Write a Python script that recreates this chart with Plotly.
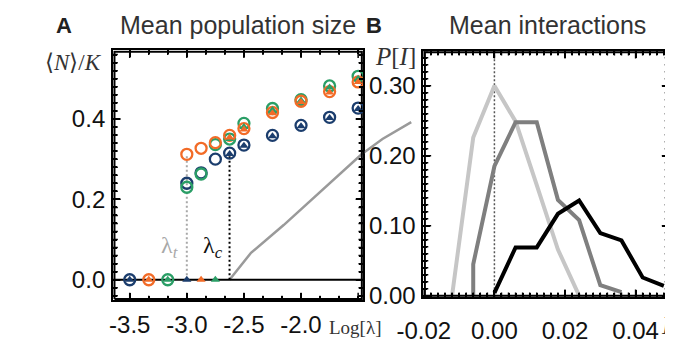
import numpy as np
import plotly.graph_objects as go

# The page body has an 8px margin: positions below are given in window pixels and shifted by it
OFF = 8
W, H = 673, 346

# ---------------- data: panel A ----------------
blue_circ_x = [-3.5, -3.0, -2.875, -2.75, -2.625, -2.5, -2.25, -2.0, -1.75, -1.5]
blue_circ_y = [0.0, 0.240, 0.266, 0.300, 0.315, 0.335, 0.359, 0.384, 0.404, 0.427]
orange_circ_x = [-3.333, -3.0, -2.875, -2.75, -2.625, -2.5, -2.25, -2.0, -1.75, -1.5]
orange_circ_y = [0.0, 0.312, 0.327, 0.341, 0.359, 0.376, 0.416, 0.444, 0.468, 0.492]
green_circ_x = [-3.167, -3.0, -2.875, -2.75, -2.625, -2.5, -2.25, -2.0, -1.75, -1.5]
green_circ_y = [0.0, 0.230, 0.263, 0.336, 0.350, 0.389, 0.426, 0.448, 0.482, 0.506]

blue_tri_x = [-3.5, -3.0, -2.625, -2.5, -2.25, -2.0, -1.75, -1.5]
blue_tri_y = [0.0, 0.0, 0.313, 0.333, 0.357, 0.382, 0.402, 0.425]
orange_tri_x = [-3.333, -2.875, -2.625, -2.5, -2.25, -2.0, -1.75, -1.5]
orange_tri_y = [0.0, 0.0, 0.354, 0.374, 0.414, 0.442, 0.466, 0.492]
green_tri_x = [-3.167, -2.75, -2.625, -2.5, -2.25, -2.0, -1.75, -1.5]
green_tri_y = [0.0, 0.0, 0.350, 0.380, 0.422, 0.446, 0.478, 0.500]

curve_x = [-2.626, -2.5, -2.438, -2.152, -1.875, -1.598, -1.470, -1.287, -1.035]
curve_y = [0.0, 0.045, 0.067, 0.136, 0.208, 0.280, 0.312, 0.350, 0.392]

lambda_t = -3.0
lambda_c = -2.626
lambda_t_top = 0.312
lambda_c_top = 0.315

xA_ticks = [-3.5, -3.0, -2.5, -2.0]
xA_text = ["-3.5", "-3.0", "-2.5", "-2.0"]
yA_ticks = [0.0, 0.2, 0.4]
yA_text = ["0.0", "0.2", "0.4"]

# ---------------- data: panel B ----------------
light_x = [-0.012, -0.006, 0.0, 0.006, 0.012, 0.018, 0.024]
light_y = [0.0, 0.226, 0.300, 0.249, 0.158, 0.066, 0.0]
mid_x = [-0.006, -0.006, 0.0, 0.006, 0.012, 0.018, 0.024, 0.030, 0.036]
mid_y = [0.0, 0.045, 0.185, 0.248, 0.248, 0.137, 0.108, 0.015, 0.005]
black_x = [0.0, 0.006, 0.012, 0.018, 0.024, 0.030, 0.036, 0.042, 0.048]
black_y = [0.004, 0.069, 0.069, 0.117, 0.136, 0.0895, 0.079, 0.026, 0.014]

xB_ticks = [-0.02, 0.0, 0.02, 0.04]
xB_text = ["-0.02", "0.00", "0.02", "0.04"]
yB_ticks = [0.0, 0.1, 0.2, 0.3]
yB_text = ["0.00", "0.10", "0.20", "0.30"]

# ---------------- styling / geometry ----------------
BLUE = "#1b3d6d"
ORANGE = "#f26b27"
GREEN = "#2a9e66"
SANS = "Liberation Sans"
SERIF = "Liberation Serif"


def fx(px):
    return (px - OFF) / W


def fy(py):
    return 1 - (py - OFF) / H


A_left, A_right, A_top, A_bot = 89.3, 350.0, 51.7, 311.0
B_left, B_right, B_top, B_bot = 412.7, 669.0, 52.3, 307.7
xA_range = [-3.646, -1.455]
yA_range = [-0.0516, 0.571]
xB_range = [-0.0201, 0.0496]
yB_range = [-0.0023, 0.35]
ext_left, ext_right = 351.5, 405.0
scaleA = (A_right - A_left) / (xA_range[1] - xA_range[0])
xE_range = [xA_range[0] + (ext_left - A_left) / scaleA,
            xA_range[0] + (ext_right - A_left) / scaleA]

fig = go.Figure()


def frame(xa, ya, xr, yr, wpx, hpx, xmaj, xmin, x0tick, ymaj, ymin):
    """Panel frame with inside ticks on all four sides, built on the panel's own axes."""
    sx = wpx / (xr[1] - xr[0])
    sy = hpx / (yr[1] - yr[0])
    dx, dy = 1.5 / sx, 1.5 / sy
    fig.add_trace(go.Scatter(
        x=[xr[0] + dx, xr[1] - dx, xr[1] - dx, xr[0] + dx, xr[0] + dx],
        y=[yr[0] + dy, yr[0] + dy, yr[1] - dy, yr[1] - dy, yr[0] + dy],
        mode="lines", xaxis=xa, yaxis=ya, line=dict(color="black", width=2),
        showlegend=False, hoverinfo="skip"))
    tx, ty = [], []
    k0 = int(np.ceil((xr[0] - x0tick) / xmin - 1e-9))
    k1 = int(np.floor((xr[1] - x0tick) / xmin + 1e-9))
    for k in range(k0, k1 + 1):
        v = x0tick + k * xmin
        r = (v - x0tick) / xmaj
        L = (8 if abs(r - round(r)) < 1e-6 else 5) / sy
        tx += [v, v, None, v, v, None]
        ty += [yr[0], yr[0] + L, None, yr[1], yr[1] - L, None]
    k0 = int(np.ceil(yr[0] / ymin - 1e-9))
    k1 = int(np.floor(yr[1] / ymin + 1e-9))
    for k in range(k0, k1 + 1):
        v = k * ymin
        r = v / ymaj
        L = (8 if abs(r - round(r)) < 1e-6 else 5) / sx
        tx += [xr[0], xr[0] + L, None, xr[1], xr[1] - L, None]
        ty += [v, v, None, v, v, None]
    fig.add_trace(go.Scatter(x=tx, y=ty, mode="lines", xaxis=xa, yaxis=ya,
                             line=dict(color="black", width=1.5), showlegend=False,
                             hoverinfo="skip"))


curve_line = dict(color="#9a9a9a", width=2.5)
fig.add_trace(go.Scatter(x=curve_x, y=curve_y, mode="lines", xaxis="x", yaxis="y",
                         line=curve_line, showlegend=False))
fig.add_trace(go.Scatter(x=curve_x, y=curve_y, mode="lines", xaxis="x2", yaxis="y2",
                         line=curve_line, showlegend=False))

fig.add_trace(go.Scatter(x=xA_range, y=[0, 0], mode="lines", xaxis="x", yaxis="y",
                         line=dict(color="black", width=2), showlegend=False))
fig.add_trace(go.Scatter(x=[lambda_t, lambda_t], y=[0, lambda_t_top], mode="lines",
                         line=dict(color="#a8a8a8", width=2, dash="2px,2.5px"), showlegend=False))
fig.add_trace(go.Scatter(x=[lambda_c, lambda_c], y=[0, lambda_c_top], mode="lines",
                         line=dict(color="black", width=2, dash="2px,2.5px"), showlegend=False))

frame("x", "y", xA_range, yA_range, A_right - A_left, A_bot - A_top,
      0.5, 0.5 / 3, -3.5, 0.2, 0.02)


def circ(x, y, c):
    fig.add_trace(go.Scatter(x=x, y=y, mode="markers", showlegend=False, cliponaxis=False,
                             marker=dict(symbol="circle-open", size=11, color=c,
                                         line=dict(width=2.3, color=c))))


def tri(x, y, c):
    fig.add_trace(go.Scatter(x=x, y=y, mode="markers", showlegend=False, cliponaxis=False,
                             marker=dict(symbol="triangle-up", size=8, color=c,
                                         line=dict(width=0))))


circ(blue_circ_x, blue_circ_y, BLUE)
circ(green_circ_x, green_circ_y, GREEN)
circ(orange_circ_x, orange_circ_y, ORANGE)
tri(blue_tri_x, blue_tri_y, BLUE)
tri(green_tri_x, green_tri_y, GREEN)
tri(orange_tri_x, orange_tri_y, ORANGE)

fig.add_trace(go.Scatter(x=[0, 0], y=yB_range, mode="lines", xaxis="x3", yaxis="y3",
                         line=dict(color="#555555", width=1.5, dash="2px,2px"), showlegend=False))
fig.add_trace(go.Scatter(x=light_x, y=light_y, mode="lines", xaxis="x3", yaxis="y3",
                         line=dict(color="#c6c6c6", width=4), showlegend=False))
fig.add_trace(go.Scatter(x=mid_x, y=mid_y, mode="lines", xaxis="x3", yaxis="y3",
                         line=dict(color="#7f7f7f", width=4), showlegend=False))
fig.add_trace(go.Scatter(x=black_x, y=black_y, mode="lines", xaxis="x3", yaxis="y3",
                         line=dict(color="black", width=4), showlegend=False))

frame("x3", "y3", xB_range, yB_range, B_right - B_left, B_bot - B_top,
      0.02, 0.002, 0.0, 0.1, 0.01)

tickfont = dict(family=SANS, size=24, color="#111111")
common = dict(showline=True, linecolor="black", linewidth=2, mirror="allticks", ticks="inside",
              tickwidth=1.5, ticklen=7, tickcolor="black", showgrid=False, zeroline=False,
              tickfont=tickfont, tickmode="array")


def minor(d, t0):
    return dict(dtick=d, tick0=t0, ticks="inside", ticklen=4, tickwidth=1.5, tickcolor="black")


fig.update_layout(
    width=W, height=H, margin=dict(l=0, r=0, t=0, b=0),
    paper_bgcolor="white", plot_bgcolor="white",
    xaxis=dict(domain=[fx(A_left), fx(A_right)], range=xA_range, anchor="y",
               tickvals=xA_ticks, ticktext=xA_text, ticklabelstandoff=2,
               minor=minor(0.5 / 3, -3.5), **common),
    yaxis=dict(domain=[fy(A_bot), fy(A_top)], range=yA_range, anchor="x",
               tickvals=yA_ticks, ticktext=yA_text, ticklabelstandoff=1,
               minor=minor(0.02, 0), **common),
    xaxis2=dict(domain=[fx(ext_left), fx(ext_right)], range=xE_range, anchor="y2",
                visible=False, showgrid=False, zeroline=False),
    yaxis2=dict(domain=[fy(A_bot), fy(A_top)], range=yA_range, anchor="x2",
                visible=False, showgrid=False, zeroline=False),
    xaxis3=dict(domain=[fx(B_left), fx(B_right)], range=xB_range, anchor="y3",
                tickvals=xB_ticks, ticktext=xB_text, ticklabelstandoff=11,
                minor=minor(0.002, 0), **common),
    yaxis3=dict(domain=[fy(B_bot), fy(B_top)], range=yB_range, anchor="x3",
                tickvals=yB_ticks, ticktext=yB_text, ticklabelstandoff=1,
                minor=minor(0.01, 0), **common),
)


def ann(text, px, py, size, family=SANS, color="#222222", xanchor="center"):
    fig.add_annotation(text=text, x=fx(px), y=fy(py), xref="paper", yref="paper",
                       showarrow=False, xanchor=xanchor, yanchor="middle",
                       font=dict(family=family, size=size, color=color))


ann("<b>A</b>", 38.7, 26.3, 22, color="#222222")
ann("Mean population size", 219, 26, 25, color="#333333")
ann("<b>B</b>", 361.3, 26.3, 22, color="#222222")
ann("Mean interactions", 541.7, 26, 25, color="#333333")
ann("\u27e8<i>N</i>\u27e9/<i>K</i>", 48.5, 64, 23, family=SERIF, color="#333333")
ann("Log[λ]", 341, 339, 19, family=SERIF, color="#333333")
ann("<i>P</i>[<i>I</i>]", 384, 58, 25, family=SERIF, color="#333333")
ann("<i>I</i>", 666, 337, 25, family=SERIF, color="#333333")
ann("λ<sub><i>t</i></sub>", 148, 256, 24, family=SERIF, color="#a8a8a8")
ann("λ<sub><i>c</i></sub>", 193, 256, 24, family=SERIF, color="#111111")

fig.write_html("out.html")
